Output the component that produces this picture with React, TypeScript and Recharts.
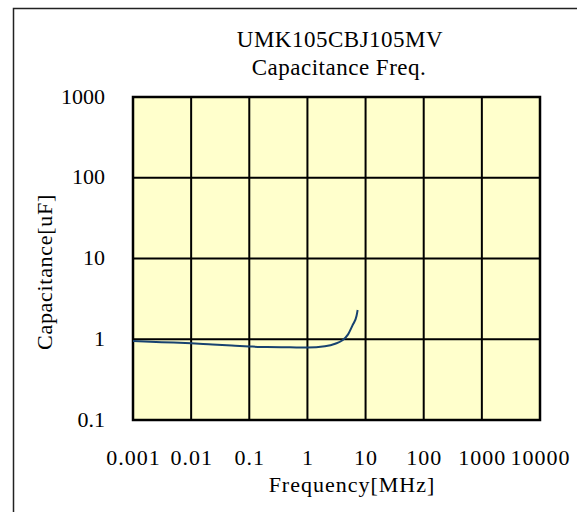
import { LineChart, Line, XAxis, YAxis, CartesianGrid, Customized } from "recharts";

const freqMHz = [0.001, 0.002, 0.005, 0.01, 0.02, 0.05, 0.1, 0.2, 0.5, 1, 2, 3, 4, 5, 6, 7, 7.3];
const capUF = [0.95, 0.93, 0.91, 0.89, 0.865, 0.835, 0.815, 0.8, 0.795, 0.79, 0.82, 0.88, 0.97, 1.15, 1.5, 1.95, 2.3];
const xTicks = [0.001, 0.01, 0.1, 1, 10, 100, 1000, 10000];
const yTicks = [0.1, 1, 10, 100, 1000];
const xTickLabels = ["0.001", "0.01", "0.1", "1", "10", "100", "1000", "10000"];
const yTickLabels = ["0.1", "1", "10", "100", "1000"];
const titleLines = ["UMK105CBJ105MV", "Capacitance Freq."];

const data = freqMHz.map((f, i) => ({ f, c: capUF[i] }));
const font = "'Liberation Serif', 'Times New Roman', serif";

const XTick = (props: any) => {
  const i = xTicks.indexOf(props.payload.value);
  return (
    <text x={props.x + 0.5} y={props.y + 37} textAnchor="middle" fontSize={22} fontFamily={font} fill="#000" letterSpacing={1}>
      {xTickLabels[i]}
    </text>
  );
};

const YTick = (props: any) => {
  const i = yTicks.indexOf(props.payload.value);
  return (
    <text x={props.x - 20} y={props.y + 6.5} textAnchor="end" fontSize={22} fontFamily={font} fill="#000">
      {yTickLabels[i]}
    </text>
  );
};

// frame, titles and axis titles
const Overlay = () => (
  <g fontFamily={font} fill="#000">
    <rect x={13.5} y={8.5} width={700} height={700} fill="none" stroke="#222" strokeWidth={1.5} />
    <text x={340} y={47} textAnchor="middle" fontSize={23} letterSpacing={0.5}>{titleLines[0]}</text>
    <text x={339} y={75} textAnchor="middle" fontSize={23} letterSpacing={0.5}>{titleLines[1]}</text>
    <text x={352} y={492} textAnchor="middle" fontSize={22} letterSpacing={1}>Frequency[MHz]</text>
    <text x={51.5} y={272} textAnchor="middle" fontSize={22} letterSpacing={0.7} transform="rotate(-90 51.5 272)">
      Capacitance[uF]
    </text>
    <rect x={133} y={97} width={407} height={323} fill="none" stroke="#000" strokeWidth={2.5} />
  </g>
);

export default function App() {
  return (
    <div style={{ position: "absolute", left: 0, top: 0, width: 577, height: 512, background: "#fff" }}>
      <LineChart width={577} height={512} data={data} margin={{ top: 97, right: 37, left: 13, bottom: 0 }}>
        <CartesianGrid stroke="#000" strokeWidth={2} fill="#FFFFCC" fillOpacity={1} />
        <XAxis
          dataKey="f"
          type="number"
          scale="log"
          domain={[0.001, 10000]}
          ticks={xTicks}
          allowDataOverflow
          axisLine={false}
          tickLine={false}
          tick={<XTick />}
          height={92}
          interval={0}
        />
        <YAxis
          type="number"
          scale="log"
          domain={[0.1, 1000]}
          ticks={yTicks}
          allowDataOverflow
          axisLine={false}
          tickLine={false}
          tick={<YTick />}
          width={120}
          interval={0}
        />
        <Line type="monotone" dataKey="c" stroke="#174270" strokeWidth={2} dot={false} isAnimationActive={false} />
        <Customized component={<Overlay />} />
      </LineChart>
    </div>
  );
}
